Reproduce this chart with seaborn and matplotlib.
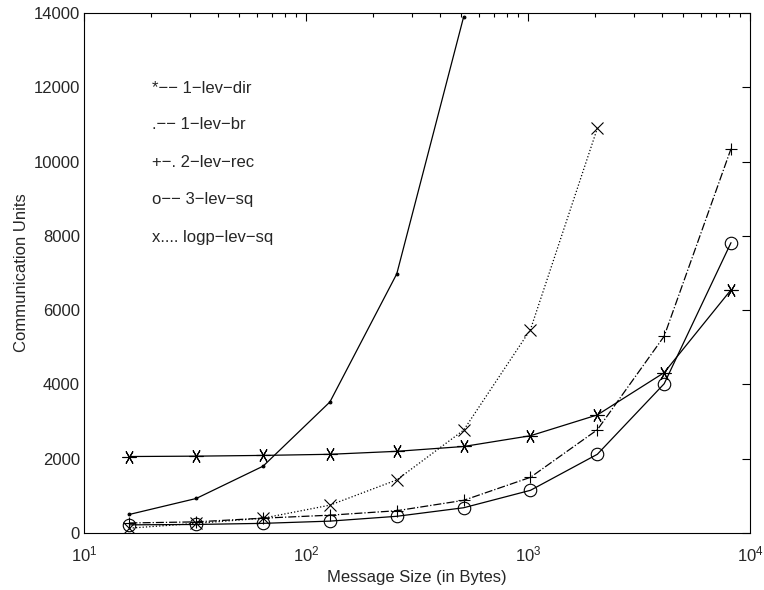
import pandas as pd
import seaborn as sns
import matplotlib.pyplot as plt

sizes = [16, 32, 64, 128, 256, 512, 1024, 2048, 4096, 8192]
dir1 = [2060, 2070, 2090, 2120, 2200, 2330, 2620, 3180, 4320, 6550]
br1 = [500, 930, 1800, 3530, 6980, 13900]
rec2 = [270, 300, 400, 480, 600, 880, 1500, 2780, 5300, 10350]
sq3 = [220, 230, 260, 320, 450, 680, 1150, 2120, 4020, 7820]
logp = [130, 260, 400, 750, 1430, 2770, 5480, 10900]
legend_lines = ['*\u2212\u2212 1\u2212lev\u2212dir', '.\u2212\u2212 1\u2212lev\u2212br',
                '+\u2212. 2\u2212lev\u2212rec', 'o\u2212\u2212 3\u2212lev\u2212sq',
                'x.... logp\u2212lev\u2212sq']

sns.set_style('white')
plt.rcParams['font.family'] = ['Liberation Sans', 'DejaVu Sans']

fig = plt.figure(figsize=(7.64, 5.9), dpi=100)
ax = fig.add_axes([0.110, 0.0966, 0.872, 0.881])

# (values, marker, linestyle, markersize, filled)
series = [
    (dir1, (6, 2, 90), '-', 10, False),
    (br1, '.', '-', 4, True),
    (rec2, '+', '-.', 8, False),
    (sq3, 'o', '-', 9, False),
    (logp, 'x', ':', 8, False),
]
for vals, mk, ls, ms, filled in series:
    df = pd.DataFrame({'size': sizes[:len(vals)], 'units': vals})
    sns.lineplot(data=df, x='size', y='units', ax=ax, color='black', marker=mk,
                 linestyle=ls, markersize=ms, linewidth=0.9,
                 markerfacecolor='black' if filled else 'none',
                 markeredgecolor='black', markeredgewidth=0.8)

ax.set_xscale('log')
ax.set_xlim(10, 10000)
ax.set_ylim(0, 14000)
ax.set_yticks(range(0, 14001, 2000))
ax.set_xlabel('Message Size (in Bytes)', fontsize=12, labelpad=4)
ax.set_ylabel('Communication Units', fontsize=12, labelpad=3)
ax.tick_params(which='both', direction='in', top=True, right=True, labelsize=12,
               color='black', width=0.8)
ax.tick_params(which='major', length=6)
ax.tick_params(which='minor', length=3)
ax.tick_params(axis='x', which='major', pad=8)
ax.tick_params(axis='y', which='major', pad=3)
for s in ax.spines.values():
    s.set_color('black')
    s.set_linewidth(0.8)

ys = [0.856, 0.785, 0.712, 0.642, 0.569]
for t, y in zip(legend_lines, ys):
    ax.text(0.102, y, t, transform=ax.transAxes, fontsize=12, va='center', ha='left')

fig.savefig('out.png', dpi=100)
